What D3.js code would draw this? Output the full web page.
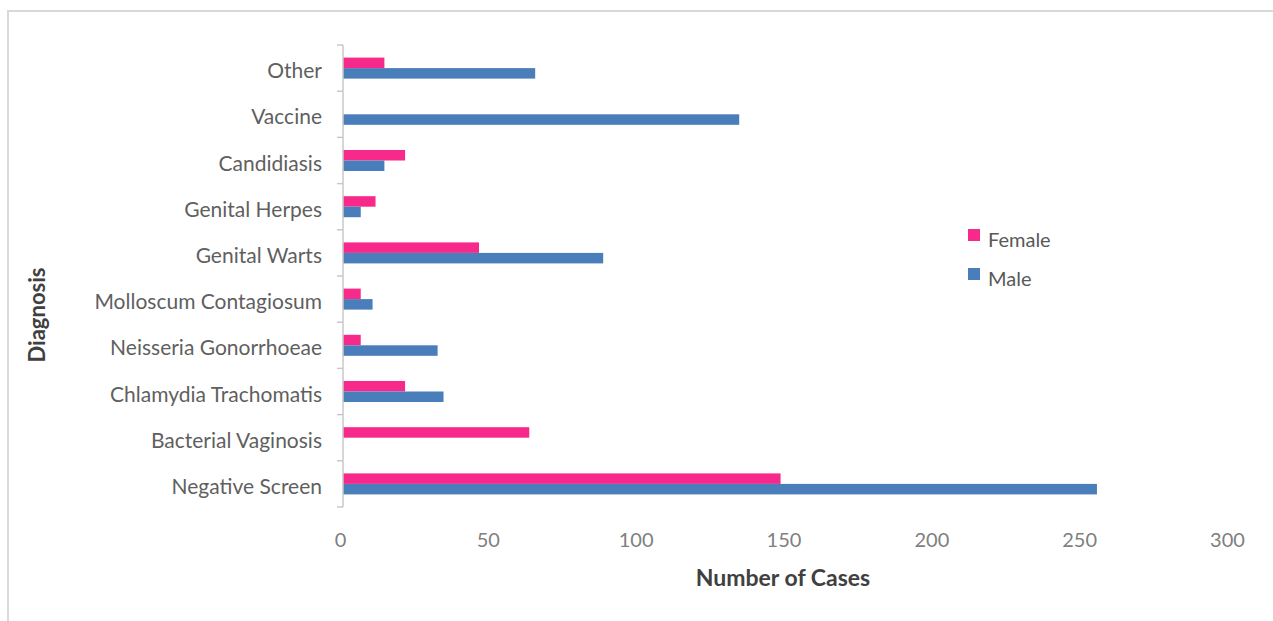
<!doctype html>
<html>
<head>
  <meta charset="utf-8">
  <style>
    body { margin: 0; background: #fff; }
    text { font-family: Lato, "Open Sans", sans-serif; }
  </style>
  <script src="https://d3js.org/d3.v7.min.js"></script>
</head>
<body>
<svg width="1273" height="621"></svg>
<script>
  // data (top to bottom)
  var categories = ["Other", "Vaccine", "Candidiasis", "Genital Herpes", "Genital Warts",
    "Molloscum Contagiosum", "Neisseria Gonorrhoeae", "Chlamydia Trachomatis",
    "Bacterial Vaginosis", "Negative Screen"];
  var female = [14, 0, 21, 11, 46, 6, 6, 21, 63, 148];
  var male = [65, 134, 14, 6, 88, 10, 32, 34, 0, 255];
  var seriesNames = ["Female", "Male"];
  var xTicks = [0, 50, 100, 150, 200, 250, 300];

  var colors = { Female: "#f72a8c", Male: "#4a7ebb" };

  var svg = d3.select("svg");

  // light frame (top + left edge visible)
  svg.append("path")
    .attr("d", "M8,621 V11 H1273")
    .attr("fill", "none")
    .attr("stroke", "#d9d9d9")
    .attr("stroke-width", 2);

  var x = d3.scaleLinear().domain([0, 300]).range([343, 1230]);
  var y = d3.scaleBand().domain(categories).range([45, 507]);

  var bw = y.bandwidth();
  var groupH = bw * 0.455;
  var sub = d3.scaleBand().domain(seriesNames)
    .range([(bw - groupH) / 2, (bw + groupH) / 2]);

  var rows = categories.map(function (c, i) {
    return { cat: c, Female: female[i], Male: male[i] };
  });

  // bars
  var groups = svg.selectAll(".grp")
    .data(rows)
    .enter().append("g")
    .attr("class", "grp")
    .attr("transform", function (d) { return "translate(0," + y(d.cat) + ")"; });

  groups.selectAll("rect")
    .data(function (d) { return seriesNames.map(function (s) { return { s: s, v: d[s] }; }); })
    .enter().append("rect")
    .attr("x", x(0))
    .attr("y", function (d) { return sub(d.s); })
    .attr("width", function (d) { return x(d.v) - x(0); })
    .attr("height", sub.bandwidth())
    .attr("fill", function (d) { return colors[d.s]; });

  // vertical axis line with ticks at category boundaries
  svg.append("line")
    .attr("x1", x(0)).attr("x2", x(0))
    .attr("y1", y.range()[0]).attr("y2", y.range()[1])
    .attr("stroke", "#c8c8c8")
    .attr("stroke-width", 1.5);

  var bounds = categories.map(function (c) { return y(c); }).concat([y.range()[1]]);
  svg.selectAll(".btick")
    .data(bounds)
    .enter().append("line")
    .attr("class", "btick")
    .attr("x1", x(0) - 6).attr("x2", x(0))
    .attr("y1", function (d) { return d; })
    .attr("y2", function (d) { return d; })
    .attr("stroke", "#c8c8c8")
    .attr("stroke-width", 1.5);

  // category labels
  var yAxis = svg.append("g")
    .attr("transform", "translate(" + x(0) + ",0)")
    .call(d3.axisLeft(y).tickSize(0).tickPadding(21));
  yAxis.select(".domain").remove();
  yAxis.selectAll("text")
    .attr("dy", "0.48em")
    .style("font-family", "Lato, sans-serif")
    .style("font-size", "21px")
    .attr("fill", "#5f5f5f");

  // value labels
  var xAxis = svg.append("g")
    .attr("transform", "translate(0,507)")
    .call(d3.axisBottom(x).tickValues(xTicks).tickSize(0).tickPadding(26));
  xAxis.select(".domain").remove();
  xAxis.selectAll("text")
    .attr("dx", -3)
    .style("font-family", "Lato, sans-serif")
    .style("font-size", "20px")
    .attr("fill", "#808080");

  // axis titles
  svg.append("text")
    .attr("x", 783)
    .attr("y", 586)
    .attr("text-anchor", "middle")
    .attr("font-size", "23px")
    .attr("font-weight", "bold")
    .attr("fill", "#404040")
    .text("Number of Cases");

  svg.append("text")
    .attr("transform", "translate(37,315) rotate(-90)")
    .attr("text-anchor", "middle")
    .attr("dy", "0.35em")
    .attr("font-size", "22px")
    .attr("font-weight", "bold")
    .attr("fill", "#404040")
    .text("Diagnosis");

  // legend
  var legend = svg.selectAll(".leg")
    .data(seriesNames)
    .enter().append("g")
    .attr("class", "leg")
    .attr("transform", function (d, i) { return "translate(968," + (229 + i * 39) + ")"; });

  legend.append("rect")
    .attr("width", 12)
    .attr("height", 12)
    .attr("fill", function (d) { return colors[d]; });

  legend.append("text")
    .attr("x", 20)
    .attr("y", 18)
    .attr("font-size", "20px")
    .attr("fill", "#595959")
    .text(function (d) { return d; });
</script>
</body>
</html>
